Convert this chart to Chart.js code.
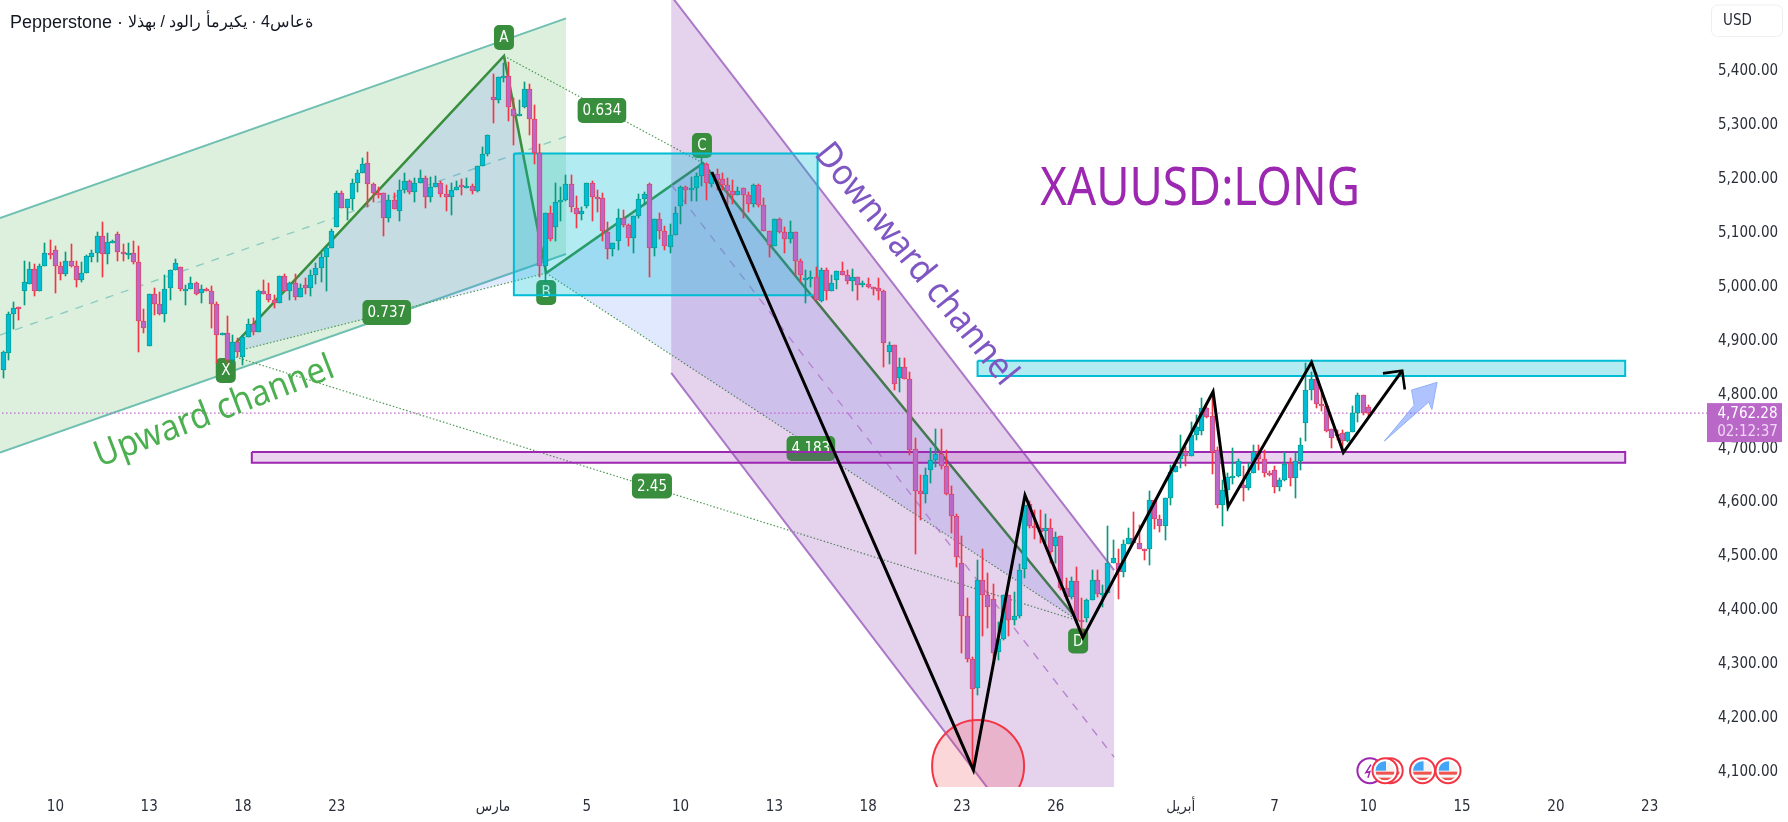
<!DOCTYPE html>
<html>
<head>
<meta charset="utf-8">
<title>XAUUSD</title>
<style>
  html, body { margin: 0; padding: 0; background: #fff; }
  canvas { display: block; }
</style>
<script src="https://cdn.jsdelivr.net/npm/chart.js@4/dist/chart.umd.min.js"></script>
</head>
<body>
<canvas id="chart" width="1788" height="822"></canvas>
<script>
// Candles
const opens = [
  4843,4874,4946,4960,4988,5002,5029,4988,5035,5060,5064,5035,5021,5044,5035,5010,5023,5051,5060,5090,
  5057,5079,5094,5062,5057,5059,5042,4933,4886,4984,4964,4947,4994,5027,5033,4991,4992,5003,4986,4993,
  4988,4964,4907,4910,4860,4895,4866,4903,4927,4912,4988,4984,4973,4966,5016,4989,5003,4978,4999,4994,
  5018,5031,5051,5068,5107,5170,5142,5159,5189,5207,5227,5187,5171,5170,5125,5157,5138,5177,5192,5172,
  5189,5198,5163,5181,5190,5168,5163,5177,5185,5182,5183,5174,5220,5242,5348,5344,5385,5387,5326,5313,
  5331,5363,5307,5244,5035,5133,5107,5153,5157,5187,5142,5131,5147,5189,5164,5161,5098,5066,5081,5124,
  5112,5088,5127,5159,5187,5068,5122,5101,5070,5092,5146,5181,5176,5179,5203,5224,5187,5205,5196,5185,
  5174,5166,5179,5166,5151,5185,5148,5101,5072,5122,5099,5086,5099,5044,5009,5013,5014,4971,5027,4988,
  5009,5025,5018,5007,5014,4999,5001,4996,4994,4988,4875,4888,4827,4847,4825,4695,4618,4613,4656,4675,
  4686,4664,4613,4571,4484,4385,4307,4252,4452,4424,4417,4320,4344,4424,4378,4385,4474,4593,4552,4549,
  4543,4549,4515,4534,4437,4421,4450,4378,4382,4415,4452,4427,4428,4484,4484,4467,4519,4530,4521,4511,
  4511,4602,4565,4552,4604,4653,4678,4690,4682,4721,4730,4771,4756,4693,4591,4619,4644,4645,4628,4623,
  4651,4691,4678,4651,4656,4625,4639,4669,4641,4673,4743,4806,4825,4780,4775,4732,4723,4725,4710,4727,
  4762,4795,4773
];
const highs = [
  4878,4949,4968,4960,5044,5043,5039,5039,5077,5083,5072,5043,5061,5076,5044,5043,5056,5065,5098,5117,
  5096,5083,5098,5076,5077,5081,5072,4955,4984,4994,4987,5018,5028,5048,5033,5000,5015,5006,5000,4995,
  4998,4968,4911,4942,4907,4901,4907,4937,4938,4991,5009,5003,4981,5016,5020,5005,5020,5001,5013,5028,
  5040,5059,5072,5103,5174,5175,5160,5196,5214,5236,5247,5189,5181,5171,5167,5170,5194,5207,5195,5198,
  5214,5202,5201,5202,5193,5185,5190,5192,5196,5198,5187,5220,5255,5278,5391,5386,5411,5413,5346,5343,
  5376,5372,5333,5261,5134,5146,5189,5182,5204,5204,5165,5145,5190,5192,5177,5170,5117,5077,5140,5139,
  5114,5128,5168,5173,5189,5123,5133,5109,5113,5144,5184,5184,5201,5207,5235,5226,5208,5216,5207,5198,
  5195,5181,5179,5172,5187,5187,5161,5101,5122,5125,5107,5119,5099,5049,5028,5025,5033,5031,5032,5018,
  5025,5042,5028,5029,5014,5007,5012,4996,5012,4991,4895,4888,4864,4864,4839,4717,4648,4660,4697,4733,
  4733,4694,4627,4576,4534,4419,4310,4490,4510,4466,4445,4375,4424,4424,4431,4482,4591,4599,4583,4583,
  4576,4565,4541,4534,4456,4458,4477,4419,4417,4472,4471,4443,4552,4527,4511,4526,4549,4579,4554,4511,
  4617,4602,4573,4604,4666,4666,4722,4700,4745,4759,4790,4774,4802,4700,4638,4651,4697,4678,4664,4669,
  4703,4703,4694,4654,4664,4641,4691,4679,4688,4716,4855,4839,4836,4799,4777,4732,4731,4731,4728,4776,
  4799,4795,4777
];
const lows = [
  4828,4861,4919,4935,4963,5002,4980,4988,5035,5048,4986,5009,5017,5034,4997,5005,5023,5043,5043,5015,
  5038,5077,5044,5045,5049,5038,4876,4910,4886,4945,4944,4932,4973,5027,4989,4963,4992,4981,4966,4989,
  4920,4855,4907,4855,4855,4867,4852,4903,4908,4912,4983,4969,4958,4966,4988,4972,4972,4977,4983,4980,
  5002,5006,4988,5068,5107,5142,5121,5139,5172,5207,5144,5154,5161,5091,5116,5140,5119,5170,5168,5153,
  5189,5143,5153,5181,5164,5138,5129,5176,5166,5179,5168,5172,5220,5240,5301,5338,5377,5305,5259,5313,
  5328,5278,5224,5015,5006,5082,5082,5119,5155,5136,5106,5121,5143,5119,5136,5082,5048,5054,5064,5108,
  5072,5060,5125,5150,5014,5054,5085,5065,5060,5092,5114,5151,5155,5155,5184,5158,5182,5176,5176,5148,
  5151,5166,5124,5136,5145,5145,5101,5052,5072,5097,5059,5077,5017,5005,4966,4996,4972,4969,4972,4988,
  4992,5018,5002,4989,4972,4996,4994,4981,4973,4848,4853,4805,4802,4825,4685,4501,4564,4595,4633,4663,
  4658,4610,4539,4476,4317,4301,4100,4239,4349,4363,4307,4304,4341,4349,4369,4383,4456,4550,4528,4522,
  4521,4484,4484,4435,4416,4417,4372,4345,4374,4415,4422,4403,4428,4484,4418,4458,4519,4521,4510,4490,
  4481,4547,4542,4527,4592,4653,4660,4664,4682,4712,4721,4753,4649,4586,4552,4580,4630,4643,4600,4620,
  4651,4656,4644,4646,4615,4617,4637,4627,4605,4656,4711,4787,4771,4767,4728,4697,4712,4691,4709,4727,
  4745,4759,4755
];
const closes = [
  4875,4946,4958,4958,5005,5029,4988,5035,5060,5055,5035,5021,5044,5036,5010,5022,5053,5060,5090,5057,
  5079,5081,5062,5057,5059,5042,4933,4920,4984,4964,4947,4992,5027,5040,4992,4992,5003,4984,4992,4992,
  4964,4907,4910,4860,4895,4875,4903,4927,4912,4988,4984,4973,4966,5016,4989,5003,4978,4994,4994,5018,
  5031,5051,5068,5101,5170,5142,5159,5189,5207,5224,5187,5170,5170,5125,5157,5140,5177,5192,5172,5189,
  5198,5163,5181,5190,5168,5163,5177,5181,5181,5183,5174,5220,5242,5278,5344,5385,5387,5330,5313,5318,
  5363,5307,5244,5036,5133,5085,5153,5157,5187,5144,5131,5138,5189,5164,5161,5100,5066,5077,5124,5112,
  5088,5127,5159,5168,5068,5122,5101,5072,5092,5133,5181,5176,5179,5203,5224,5190,5205,5195,5185,5174,
  5166,5174,5166,5151,5185,5148,5101,5075,5122,5099,5086,5099,5044,5018,5012,5014,4972,5027,4988,5003,
  5025,5018,5007,5014,4999,5003,4996,4994,4988,4892,4888,4816,4847,4825,4694,4617,4613,4647,4675,4686,
  4665,4613,4571,4495,4385,4307,4250,4452,4424,4403,4318,4344,4424,4378,4385,4472,4591,4552,4549,4541,
  4549,4504,4532,4437,4421,4450,4378,4376,4415,4452,4426,4428,4484,4493,4467,4519,4530,4521,4511,4508,
  4602,4565,4552,4604,4653,4664,4690,4682,4721,4736,4771,4755,4691,4591,4619,4643,4645,4673,4623,4651,
  4691,4677,4651,4647,4625,4639,4667,4641,4673,4703,4806,4825,4780,4775,4730,4716,4722,4710,4727,4762,
  4795,4762,4762.28
];

// Axes
const priceTicks = [4100,4200,4300,4400,4500,4600,4700,4800,4900,5000,5100,5200,5300,5400];
const timeTicks  = [10,28,46,64,94,112,130,148,166,184,202,226,244,262,280,298,316];
const timeLabels = ['10','13','18','23','مارس','5','10','13','18','23','26','أبريل','7','10','15','20','23'];
const lastPrice  = 4762.28;

// Drawings, as [bar, price]
const upChannelTop  = [[-0.63,5124],[108,5494.6]];
const upChannelBot  = [[-0.63,4689],[108,5057.4]];
const upChannelMid  = [[-0.63,4907],[108,5275.4]];
const downChannelTop = [[128.2,5536],[213.2,4471]];
const downChannelBot = [[128.2,4837],[213.2,3759]];
const downChannelMid = [[128.2,5186],[213.2,4124]];
const ptX = [42.7,4872], ptA = [96.1,5424.7], ptB = [104.2,5022], ptC = [134.3,5226], ptD = [206.3,4377];
const zoneCyan1   = [98,156.3,5244,4981];
const zoneCyan2   = [187,311.3,4859.5,4831];
const zonePurple  = [47.7,311.3,4690,4670];
const zigzag = [[136,5209.5],[186.2,4100],[196.1,4610],[207.2,4346],[232.2,4802],[235.1,4589],[251.1,4856.5],[257.2,4689],[268.5,4841]];
const arrowHead = [[264.8,4836],[268.5,4841],[269,4806]];
const blueArrow = [[265.1,4710.5],[270.8,4777],[270.3,4805],[275.2,4819.4],[274.2,4769],[273.6,4783],[265.1,4710.5]];
const bigCircle = [187.1,4107.6];

const patternLabels = [['A',96.1,5459],['B',104.2,4986],['C',134.1,5258.7],['D',206.3,4339.5],['X',42.7,4841.3]];
const ratioLabels = [['0.634',114.9,5323.6],['0.737',73.6,4949],['2.45',124.5,4627],['4.183',155,4696.6]];
const flagEvents = [266.2,265.2,272.4,277.3];
const boltEvent = [262.3,4099];

const tickFont = '"DejaVu Sans Condensed", "DejaVu Sans"';
const pts = a => a.map(p => ({ x: p[0], y: p[1] }));

// Line dataset, with an optional closed fill
function shape(points, o) {
  return Object.assign({
    type: 'line', data: pts(points), pointRadius: 0, borderWidth: 2,
    borderColor: 'transparent', backgroundColor: 'transparent', fill: false, tension: 0
  }, o);
}
function zoneBox(z) {
  return [[z[0],z[2]],[z[1],z[2]],[z[1],z[3]],[z[0],z[3]],[z[0],z[2]]];
}
// Two channel edges become one closed polygon
function band(top, bot) {
  return [top[0], top[1], bot[1], bot[0], top[0]];
}

const isUp = closes.map((c, i) => c >= opens[i]);

const datasets = [
  // green channel
  shape(band(upChannelTop, upChannelBot), { backgroundColor: 'rgba(76,175,80,0.19)', borderWidth: 0, fill: 'shape', order: 30 }),
  shape(upChannelTop, { borderColor: '#6fc0b1', order: 29 }),
  shape(upChannelBot, { borderColor: '#6fc0b1', order: 29 }),
  shape(upChannelMid, { borderColor: '#8fcdc2', borderWidth: 1.4, borderDash: [8, 8], order: 29 }),
  // harmonic pattern
  shape([ptX, ptA, ptB, ptX], { backgroundColor: 'rgba(41,98,255,0.14)', borderWidth: 0, fill: 'shape', order: 28 }),
  shape([ptB, ptC, ptD, ptB], { backgroundColor: 'rgba(41,98,255,0.14)', borderWidth: 0, fill: 'shape', order: 28 }),
  shape([ptX, ptA, ptB, ptC, ptD], { borderColor: '#388e3c', borderWidth: 2.5, order: 27 }),
  shape([ptX, ptB], { borderColor: '#4f9a54', borderWidth: 1.2, borderDash: [1.5, 2], order: 26 }),
  shape([ptA, ptC], { borderColor: '#4f9a54', borderWidth: 1.2, borderDash: [1.5, 2], order: 26 }),
  shape([ptB, ptD], { borderColor: '#4f9a54', borderWidth: 1.2, borderDash: [1.5, 2], order: 26 }),
  shape([ptX, ptD], { borderColor: '#4f9a54', borderWidth: 1.2, borderDash: [1.5, 2], order: 26 }),
  // purple channel
  shape(band(downChannelTop, downChannelBot),
    { backgroundColor: 'rgba(123,31,162,0.2)', borderWidth: 0, fill: 'shape', order: 25, patternLabelsBefore: true }),
  shape(downChannelTop, { borderColor: '#ab78c8', order: 24 }),
  shape(downChannelBot, { borderColor: '#ab78c8', order: 24 }),
  shape(downChannelMid, { borderColor: '#b583d0', borderWidth: 1.4, borderDash: [8, 8], order: 24 }),
  // zones
  shape(zoneBox(zoneCyan1), { borderColor: '#00bcd4', backgroundColor: 'rgba(0,188,212,0.3)', fill: 'shape', order: 23 }),
  shape(zoneBox(zoneCyan2), { borderColor: '#00bcd4', backgroundColor: 'rgba(0,188,212,0.3)', fill: 'shape', order: 23 }),
  shape(zoneBox(zonePurple), { borderColor: '#9c27b0', backgroundColor: 'rgba(156,39,176,0.2)', fill: 'shape', order: 23 }),
  // event circle
  { type: 'bubble', data: [{ x: bigCircle[0], y: bigCircle[1], r: 46 }], backgroundColor: 'rgba(242,54,69,0.2)',
    borderColor: '#f23645', borderWidth: 2, clip: 0, order: 22 },
  // last price line
  shape([[-1,lastPrice],[328,lastPrice]], { borderColor: '#ba68c8', borderWidth: 1.2, borderDash: [1.5, 2.5], order: 21 }),
  // candles: wick then body
  { type: 'bar', data: highs.map((h, i) => ({ x: i, y: [lows[i], h] })), grouped: false, barThickness: 1,
    backgroundColor: isUp.map(u => u ? '#089981' : '#f23645'), borderWidth: 0, order: 11, candle: true },
  { type: 'bar', data: opens.map((o, i) => ({ x: i, y: [o, closes[i]] })), grouped: false, barThickness: 5,
    backgroundColor: isUp.map(u => u ? '#00bcd4' : '#ba68c8'),
    borderColor: isUp.map(u => u ? '#089981' : '#f23645'), borderWidth: 0.8, borderSkipped: false, order: 10, candle: true },
  // hand drawn path on top
  shape(zigzag, { borderColor: '#000', borderWidth: 3, borderJoinStyle: 'miter', order: 5 }),
  shape(arrowHead, { borderColor: '#000', borderWidth: 2.6, order: 5 }),
  shape(blueArrow, { borderColor: '#8fb0f5', borderWidth: 1, backgroundColor: 'rgba(41,98,255,0.38)', fill: 'shape', order: 5 })
];

function roundBox(ctx, cx, cy, w, h, r, color) {
  ctx.beginPath();
  ctx.roundRect(cx - w / 2, cy - h / 2, w, h, r);
  ctx.fillStyle = color;
  ctx.fill();
}

// Snap candles to whole pixels, the scale gives fractions
const snapPlugin = {
  id: 'snapCandles',
  afterDatasetsUpdate(chart) {
    chart.data.datasets.forEach((ds, i) => {
      if (!ds.candle) return;
      chart.getDatasetMeta(i).data.forEach(el => {
        el.x = Math.floor(el.x) + 0.5;
        el.y = Math.round(el.y);
        el.base = Math.round(el.base);
        if (Math.abs(el.base - el.y) < 2) el.base = el.y + 2;
      });
    });
  }
};

// Labels of the pattern lie under the purple channel and the candles
const patternPlugin = {
  id: 'patternLabels',
  beforeDatasetDraw(chart, args) {
    if (!chart.data.datasets[args.index].patternLabelsBefore) return;
    const { ctx, scales: { x, y } } = chart;
    ctx.save();
    ctx.textAlign = 'center';
    ctx.textBaseline = 'middle';
    ctx.font = '15px ' + tickFont;
    ratioLabels.forEach(l => {
      const px = x.getPixelForValue(l[1]), py = y.getPixelForValue(l[2]);
      roundBox(ctx, px, py, ctx.measureText(l[0]).width + 10, 25, 5, '#388e3c');
      ctx.fillStyle = '#fff';
      ctx.fillText(l[0], px, py + 1);
    });
    patternLabels.forEach(l => {
      const px = x.getPixelForValue(l[1]), py = y.getPixelForValue(l[2]);
      roundBox(ctx, px, py, 20, 25, 5, '#388e3c');
      ctx.fillStyle = '#fff';
      ctx.fillText(l[0], px, py + 1);
    });
    ctx.restore();
  }
};

function rotatedText(ctx, txt, px, py, deg, sx, font, color) {
  ctx.save();
  ctx.translate(px, py);
  ctx.rotate(deg * Math.PI / 180);
  ctx.scale(sx, 1);
  ctx.font = font;
  ctx.fillStyle = color;
  ctx.textAlign = 'center';
  ctx.textBaseline = 'middle';
  ctx.fillText(txt, 0, 0);
  ctx.restore();
}

function drawFlag(ctx, px, py) {
  ctx.save();
  ctx.beginPath();
  ctx.arc(px, py, 12.5, 0, Math.PI * 2);
  ctx.fillStyle = '#fff';
  ctx.fill();
  ctx.strokeStyle = '#f23645';
  ctx.lineWidth = 2;
  ctx.stroke();
  ctx.beginPath();
  ctx.arc(px, py, 9.5, 0, Math.PI * 2);
  ctx.clip();
  ctx.fillStyle = '#f4f4f4';
  ctx.fillRect(px - 10, py - 10, 20, 20);
  ctx.fillStyle = '#ef5350';
  ctx.fillRect(px - 10, py + 1, 20, 3);
  ctx.fillRect(px - 10, py + 7, 20, 3);
  ctx.fillStyle = '#42a5f5';
  ctx.fillRect(px - 10, py - 10, 11, 10);
  ctx.restore();
}

const overlayPlugin = {
  id: 'overlay',
  afterDatasetsDraw(chart) {
    const { ctx, scales: { x, y } } = chart;
    // free text on the chart
    rotatedText(ctx, 'XAUUSD:LONG', x.getPixelForValue(229.7), y.getPixelForValue(5176), 0, 0.877, '52px "Noto Sans"', '#9c27b0');
    rotatedText(ctx, 'Upward channel', x.getPixelForValue(40.5), y.getPixelForValue(4764), -21, 0.92, '36px "Noto Sans"', '#4caf50');
    rotatedText(ctx, 'Downward channel', x.getPixelForValue(175.1), y.getPixelForValue(5038), 51, 0.92, '36px "Noto Sans"', '#7e57c2');
    // economic events
    ctx.save();
    const by = y.getPixelForValue(boltEvent[1]), bx = x.getPixelForValue(boltEvent[0]);
    ctx.beginPath();
    ctx.arc(bx, by, 12.5, 0, Math.PI * 2);
    ctx.strokeStyle = '#9c27b0';
    ctx.lineWidth = 2;
    ctx.stroke();
    ctx.beginPath();
    ctx.moveTo(bx + 1, by - 6);
    ctx.lineTo(bx - 4, by + 2);
    ctx.lineTo(bx, by + 1);
    ctx.lineTo(bx - 2, by + 7);
    ctx.strokeStyle = '#9c27b0';
    ctx.lineWidth = 1.5;
    ctx.stroke();
    ctx.restore();
    flagEvents.forEach(v => drawFlag(ctx, x.getPixelForValue(v), by));
  },
  afterDraw(chart) {
    const { ctx, scales: { y } } = chart;
    ctx.save();
    // header, Arabic part forced left to right as in the picture
    ctx.fillStyle = '#131722';
    ctx.textAlign = 'left';
    ctx.textBaseline = 'middle';
    ctx.font = '18px "Liberation Sans"';
    const head = 'Pepperstone · ';
    ctx.fillText(head, 10, 23);
    const headW = ctx.measureText(head).width;
    ctx.font = '16px "Liberation Sans"';
    ctx.fillText('\u202Dالذهب / دولار أمريكي · 4ساعة\u202C', 10 + headW, 23);
    // currency box
    ctx.beginPath();
    ctx.roundRect(1711.5, 5, 71, 31.5, 6);
    ctx.strokeStyle = '#eeeeee';
    ctx.lineWidth = 1;
    ctx.stroke();
    ctx.fillStyle = '#2a2e39';
    ctx.font = '15px ' + tickFont;
    ctx.fillText('USD', 1723, 21);
    // last price tag
    const ly = y.getPixelForValue(lastPrice);
    ctx.fillStyle = '#ba68c8';
    ctx.fillRect(1707, ly - 10, 75, 39);
    ctx.textAlign = 'center';
    ctx.fillStyle = '#ffffff';
    ctx.font = '15px ' + tickFont;
    ctx.fillText('4,762.28', 1747.5, ly + 1);
    ctx.fillStyle = '#eed7f3';
    ctx.fillText('02:12:37', 1747.5, ly + 19);
    ctx.restore();
  }
};

new Chart(document.getElementById('chart'), {
  data: { datasets },
  plugins: [snapPlugin, patternPlugin, overlayPlugin],
  options: {
    responsive: false,
    animation: false,
    events: [],
    layout: { padding: 0, autoPadding: false },
    plugins: { legend: { display: false }, tooltip: { enabled: false }, title: { display: false } },
    scales: {
      x: {
        type: 'linear', min: -0.63, max: 327, offset: false,
        grid: { display: false, drawTicks: false }, border: { display: false },
        afterFit: axis => { axis.height = 35; axis.paddingLeft = 0; axis.paddingRight = 0; },
        afterBuildTicks: axis => { axis.ticks = timeTicks.map(v => ({ value: v })); },
        ticks: {
          autoSkip: false, maxRotation: 0, padding: 11, color: '#2a2e39',
          font: { family: tickFont, size: 15 },
          callback: v => timeLabels[timeTicks.indexOf(v)]
        }
      },
      y: {
        type: 'linear', position: 'right', min: 4068.7, max: 5528.6,
        grid: { display: false, drawTicks: false }, border: { display: false },
        afterFit: axis => { axis.width = 81; axis.paddingTop = 0; axis.paddingBottom = 0; },
        afterBuildTicks: axis => { axis.ticks = priceTicks.map(v => ({ value: v })); },
        ticks: {
          autoSkip: false, crossAlign: 'center', padding: 11, labelOffset: 2, color: '#2a2e39',
          font: { family: tickFont, size: 15 },
          callback: v => v.toLocaleString('en-US', { minimumFractionDigits: 2, maximumFractionDigits: 2 })
        }
      }
    }
  }
});
</script>
</body>
</html>
